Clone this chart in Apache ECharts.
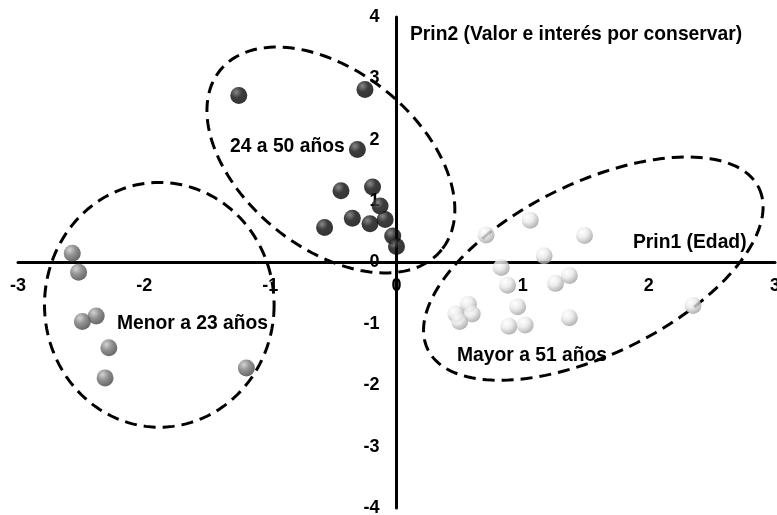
<!DOCTYPE html>
<html>
<head>
<meta charset="utf-8">
<script src="https://cdn.jsdelivr.net/npm/echarts@6/dist/echarts.min.js"></script>
<style>
  html, body { margin: 0; padding: 0; background: #fff; }
  #chart { width: 777px; height: 515px; }
</style>
</head>
<body>
<div id="chart"></div>
<script>
// scores on the first two principal components, by age group
var menorX = [-2.57, -2.52, -2.49, -2.38, -2.28, -2.31, -1.19];
var menorY = [0.15, -0.16, -0.96, -0.87, -1.39, -1.88, -1.72];

var medioX = [-1.25, -0.25, -0.31, -0.44, -0.19, -0.13, -0.09, -0.35, -0.21, -0.57, -0.03, 0.00];
var medioY = [2.72, 2.82, 1.84, 1.17, 1.23, 0.92, 0.70, 0.72, 0.63, 0.57, 0.43, 0.26];

var mayorX = [0.71, 1.06, 1.49, 1.17, 0.83, 0.88, 1.26, 1.37, 0.57, 0.60, 0.47, 0.50, 0.96, 0.89, 1.02, 1.37, 2.35];
var mayorY = [0.45, 0.69, 0.44, 0.11, -0.08, -0.37, -0.34, -0.21, -0.68, -0.84, -0.84, -0.96, -0.72, -1.04, -1.02, -0.90, -0.70];

var xTicks = [-3, -2, -1, 0, 1, 2, 3];
var yTicks = [-4, -3, -2, -1, 0, 1, 2, 3, 4];

function pairs(xs, ys) {
  return xs.map(function (x, i) { return [x, ys[i]]; });
}

// dashed rings round each group: centre x, centre y, semi axes (x units), tilt in degrees
var rings = [
  [-1.88, -0.69, 0.91, 0.97, 0],
  [-0.52, 1.67, 1.13, 0.70, 39],
  [1.56, -0.10, 1.46, 0.68, -26]
];

function ball(light, mid, dark) {
  return {
    type: 'radial', x: 0.35, y: 0.3, r: 0.75,
    colorStops: [
      { offset: 0, color: light },
      { offset: 0.45, color: mid },
      { offset: 1, color: dark }
    ]
  };
}

var W = 777, H = 515;
var grid = { left: 18, right: 2, top: 17, bottom: 7 };
var xMin = xTicks[0], xMax = xTicks[xTicks.length - 1];
var yMin = yTicks[0], yMax = yTicks[yTicks.length - 1];
// the axes cross at the origin, labels included
var xOffset = -(H - grid.top - grid.bottom) * (0 - yMin) / (yMax - yMin);
var yOffset = -(W - grid.left - grid.right) * (0 - xMin) / (xMax - xMin);

var labelFont = { fontFamily: '"Liberation Sans", Arial', fontWeight: 'bold', fontSize: 18, color: '#000' };
var textFont = 'bold 19.3px "Liberation Sans", Arial';

var myChart = echarts.init(document.getElementById('chart'));

var option = {
  animation: false,
  grid: { left: grid.left, right: grid.right, top: grid.top, bottom: grid.bottom, outerBoundsMode: 'none', containLabel: false },
  xAxis: {
    type: 'value',
    position: 'bottom',
    offset: xOffset,
    min: xMin,
    max: xMax,
    interval: 1,
    axisLine: { onZero: false, lineStyle: { color: '#000', width: 3 } },
    axisTick: { show: false },
    splitLine: { show: false },
    axisLabel: Object.assign({ margin: 15 }, labelFont)
  },
  yAxis: {
    type: 'value',
    position: 'left',
    offset: yOffset,
    min: yMin,
    max: yMax,
    interval: 1,
    axisLine: { onZero: false, lineStyle: { color: '#000', width: 3 } },
    axisTick: { show: false },
    splitLine: { show: false },
    axisLabel: Object.assign({ margin: 17 }, labelFont)
  },
  series: [
    {
      type: 'custom',
      silent: true,
      z: 1,
      data: rings,
      renderItem: function (params, api) {
        var c = api.coord([api.value(0), api.value(1)]);
        var unit = api.size([1, 1])[0];
        var a = api.value(2) * unit;
        var b = api.value(3) * unit;
        var rot = api.value(4) * Math.PI / 180;
        var pts = [];
        for (var i = 0; i < 160; i++) {
          var t = i / 160 * Math.PI * 2;
          var ex = a * Math.cos(t), ey = b * Math.sin(t);
          pts.push([
            c[0] + ex * Math.cos(rot) - ey * Math.sin(rot),
            c[1] + ex * Math.sin(rot) + ey * Math.cos(rot)
          ]);
        }
        return {
          type: 'polygon',
          shape: { points: pts },
          style: { fill: 'none', stroke: '#000', lineWidth: 3, lineDash: [12, 7] }
        };
      }
    },
    {
      name: 'Menor a 23 años',
      type: 'scatter',
      z: 3,
      symbolSize: 17,
      data: pairs(menorX, menorY),
      itemStyle: { color: ball('#c8c8c8', '#777777', '#3e3e3e') }
    },
    {
      name: '24 a 50 años',
      type: 'scatter',
      z: 3,
      symbolSize: 17,
      data: pairs(medioX, medioY),
      itemStyle: { color: ball('#6a6a6a', '#0c0c0c', '#000000') }
    },
    {
      name: 'Mayor a 51 años',
      type: 'scatter',
      z: 3,
      symbolSize: 17,
      data: pairs(mayorX, mayorY),
      itemStyle: { color: ball('#ffffff', '#e8e8e8', '#9a9a9a') }
    }
  ],
  graphic: [
    { type: 'text', left: 410, top: 25, style: { text: 'Prin2 (Valor e interés por conservar)', font: textFont, fill: '#000' } },
    { type: 'text', left: 633, top: 233, style: { text: 'Prin1 (Edad)', font: textFont, fill: '#000' } },
    { type: 'text', left: 230, top: 137, style: { text: '24 a 50 años', font: textFont, fill: '#000' } },
    { type: 'text', left: 117, top: 314, style: { text: 'Menor a 23 años', font: textFont, fill: '#000' } },
    { type: 'text', left: 457, top: 346, style: { text: 'Mayor a 51 años', font: textFont, fill: '#000' } }
  ]
};

myChart.setOption(option);
</script>
</body>
</html>
